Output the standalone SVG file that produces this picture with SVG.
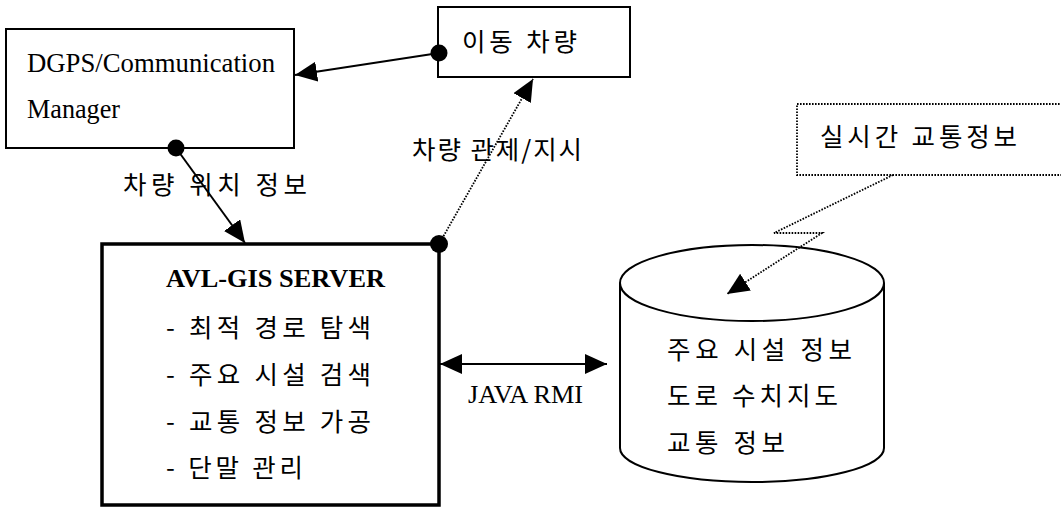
<svg xmlns="http://www.w3.org/2000/svg" width="1061" height="509" viewBox="0 0 1061 509">
  <style>
    .box { fill: #fff; stroke: #000; stroke-width: 2; }
    .thick { fill: #fff; stroke: #000; stroke-width: 3.5; }
    .dotbox { fill: #fff; stroke: #000; stroke-width: 1.8; stroke-dasharray: 1.6 1.4; }
    .lat { font-family: "Liberation Serif", "Times New Roman", serif; fill: #000; }
    .kor { font-family: "Noto Sans CJK KR", "Noto Sans", sans-serif; font-size: 25.5px; fill: #000; }
    .edge { fill: none; stroke: #000; stroke-width: 2; }
    .dotted { fill: none; stroke: #000; stroke-width: 1.8; stroke-dasharray: 1.6 1.4; }
    .dot { fill: #000; }
  </style>
  <defs>
    <marker id="arrow" markerUnits="userSpaceOnUse" markerWidth="24" markerHeight="22" refX="22" refY="10" orient="auto">
      <path d="M0,0 L22,10 L0,20 z" fill="#000"/>
    </marker>
    <marker id="arrowStart" markerUnits="userSpaceOnUse" markerWidth="24" markerHeight="22" refX="0" refY="10" orient="auto">
      <path d="M22,0 L0,10 L22,20 z" fill="#000"/>
    </marker>
  </defs>

  <!-- DGPS / communication manager -->
  <g id="dgps">
    <rect class="box" x="6" y="29" width="288" height="119"/>
    <text class="lat" x="27" y="72" font-size="27" textLength="248" lengthAdjust="spacingAndGlyphs">DGPS/Communication</text>
    <text class="lat" x="27" y="118" font-size="27" textLength="93" lengthAdjust="spacingAndGlyphs">Manager</text>
  </g>

  <!-- moving vehicle -->
  <g id="vehicle">
    <rect class="box" x="438" y="7" width="192" height="70"/>
    <text class="kor" x="462" y="51" textLength="115" lengthAdjust="spacing">이동 차량</text>
  </g>

  <!-- real-time traffic feed (box runs off the right edge) -->
  <g id="traffic-feed">
    <rect class="dotbox" x="797" y="104" width="280" height="71"/>
    <text class="kor" x="820" y="146" textLength="197" lengthAdjust="spacing">실시간 교통정보</text>
  </g>

  <!-- AVL-GIS server -->
  <g id="server">
    <rect class="thick" x="102" y="244" width="337" height="261"/>
    <text class="lat" x="166" y="287" font-size="25" font-weight="bold" textLength="219" lengthAdjust="spacingAndGlyphs">AVL-GIS SERVER</text>
    <text class="kor" x="166" y="337" textLength="205" lengthAdjust="spacing">- 최적 경로 탐색</text>
    <text class="kor" x="166" y="384" textLength="205" lengthAdjust="spacing">- 주요 시설 검색</text>
    <text class="kor" x="166" y="431" textLength="205" lengthAdjust="spacing">- 교통 정보 가공</text>
    <text class="kor" x="166" y="477" textLength="137" lengthAdjust="spacing">- 단말 관리</text>
  </g>

  <!-- database cylinder -->
  <g id="database">
    <path class="box" d="M620,283 L620,448 A132,34 0 0 0 884,448 L884,283"/>
    <ellipse class="box" cx="752" cy="283" rx="132" ry="38"/>
    <text class="kor" x="667" y="359" textLength="185" lengthAdjust="spacing">주요 시설 정보</text>
    <text class="kor" x="667" y="405" textLength="171" lengthAdjust="spacing">도로 수치지도</text>
    <text class="kor" x="667" y="452" textLength="118" lengthAdjust="spacing">교통 정보</text>
  </g>

  <!-- connectors -->
  <g id="connectors">
    <line class="edge" x1="439" y1="53" x2="295" y2="75" marker-end="url(#arrow)"/>
    <circle class="dot" cx="439" cy="53" r="8.5"/>

    <line class="edge" x1="176" y1="148" x2="245" y2="243" marker-end="url(#arrow)"/>
    <circle class="dot" cx="176" cy="148" r="8.5"/>
    <text class="kor" x="123" y="194" textLength="184" lengthAdjust="spacing">차량 위치 정보</text>

    <line class="dotted" x1="439" y1="244" x2="533" y2="79" marker-end="url(#arrow)"/>
    <circle class="dot" cx="439" cy="244" r="9"/>
    <text class="kor" x="412" y="159" textLength="170" lengthAdjust="spacing">차량 관제/지시</text>

    <line class="edge" x1="440" y1="364" x2="607" y2="364" marker-start="url(#arrowStart)" marker-end="url(#arrow)"/>
    <text class="lat" x="468" y="403" font-size="24.5" textLength="115" lengthAdjust="spacingAndGlyphs">JAVA RMI</text>

    <polyline class="dotted" points="893,175 774,233 822,233 727,294" marker-end="url(#arrow)"/>
  </g>
</svg>
